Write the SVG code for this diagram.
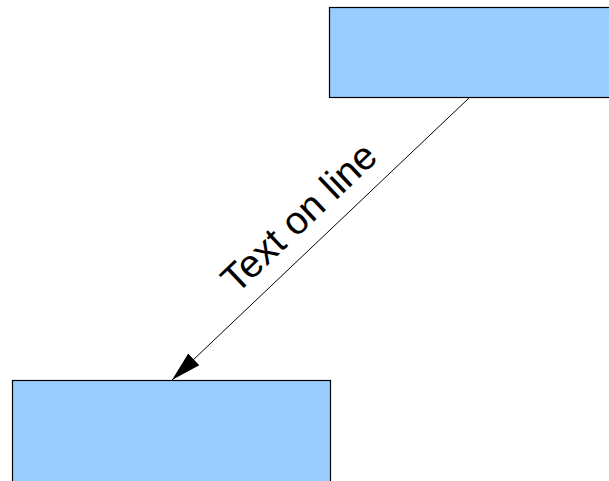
<svg xmlns="http://www.w3.org/2000/svg" width="609" height="481" viewBox="0 0 609 481">
<style>
.box{fill:#99ccff;stroke:#000;stroke-width:1.2}
.conn{stroke:#000;stroke-width:1;fill:none}
.lbl{font-family:"Liberation Sans",Arial,sans-serif;font-size:39px;fill:#000}
</style>
<defs>
<marker id="arr" markerUnits="userSpaceOnUse" markerWidth="30" markerHeight="20" viewBox="0 0 30 20" refX="30" refY="10" orient="auto">
<path d="M0,2 L30,10 L0,18 Z" fill="#000"/>
</marker>
</defs>
<rect width="609" height="481" fill="#fff"/>
<g id="node-top"><rect class="box" x="329.5" y="7.5" width="290" height="90"/></g>
<g id="node-bottom"><rect class="box" x="12.5" y="380.5" width="318" height="110"/></g>
<g id="connectors">
<line class="conn" x1="469" y1="98" x2="172" y2="380" marker-end="url(#arr)"/>
<text class="lbl" text-anchor="middle" transform="translate(308,227) rotate(-43.5)">Text on line</text>
</g>
</svg>
